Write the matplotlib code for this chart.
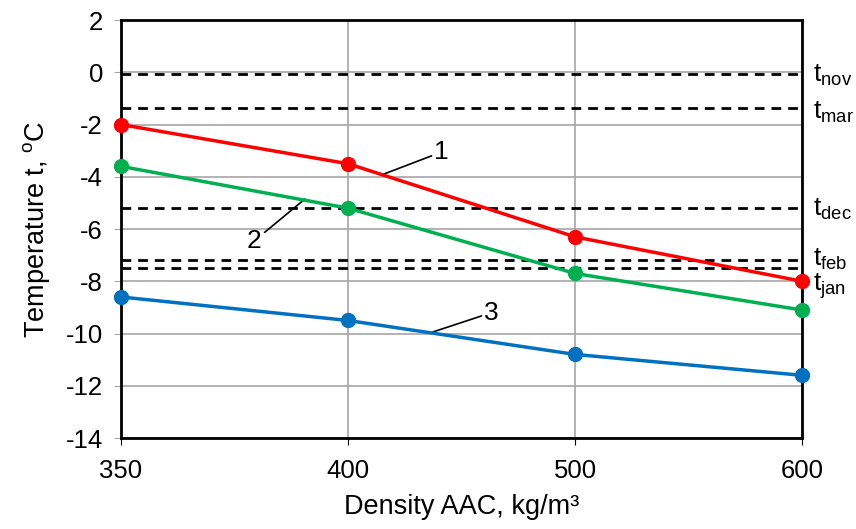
import matplotlib
matplotlib.use("Agg")
import matplotlib.pyplot as plt

plt.rcParams['font.family'] = ['Liberation Sans', 'DejaVu Sans']
plt.rcParams['mathtext.fontset'] = 'custom'
plt.rcParams['mathtext.rm'] = 'Liberation Sans'
plt.rcParams['mathtext.it'] = 'Liberation Sans'
plt.rcParams['axes.unicode_minus'] = False

categories = ['350', '400', '500', '600']
series1 = [-2.0, -3.5, -6.3, -8.0]
series2 = [-3.6, -5.2, -7.7, -9.1]
series3 = [-8.6, -9.5, -10.8, -11.6]
month_names = ['nov', 'mar', 'dec', 'feb', 'jan']
month_temps = [-0.05, -1.35, -5.2, -7.2, -7.5]
label_offsets = [-0.1, -1.55, -5.25, -7.15, -8.2]

fig = plt.figure(figsize=(8.56, 5.29), dpi=100)
ax = fig.add_axes([0.1414, 0.172, 0.7956, 0.79])
x = list(range(len(categories)))

for yv in month_temps:
    ax.axhline(yv, color='black', lw=2, ls=(0, (3.5, 2.5)), zorder=3)

ax.plot(x, series1, color='#FF0000', lw=2.5, marker='o', ms=10, clip_on=False, zorder=5)
ax.plot(x, series2, color='#00B050', lw=2.5, marker='o', ms=10, clip_on=False, zorder=5)
ax.plot(x, series3, color='#0070C0', lw=2.5, marker='o', ms=10, clip_on=False, zorder=5)

ax.set_xlim(0, 3)
ax.set_ylim(-14, 2)
ax.set_yticks(range(-14, 3, 2))
ax.set_xticks(x)
ax.set_xticklabels(categories)
ax.grid(True, color='#A6A6A6', lw=1.2, zorder=0)
ax.set_axisbelow(True)
for s in ax.spines.values():
    s.set_color('black')
    s.set_linewidth(2)
ax.tick_params(axis='both', labelsize=18.5, colors='black')
ax.tick_params(axis='y', length=5, color='#A6A6A6', pad=8)
ax.tick_params(axis='x', length=5, pad=10)

ax.set_xlabel('Density AAC, kg/m³', fontsize=19.5, labelpad=8)
ax.set_ylabel('Temperature t, $\\mathregular{^{o}}$C', fontsize=19.5, labelpad=10)

for name, yv in zip(month_names, label_offsets):
    ax.text(1.016, yv, '$\\mathregular{t_{%s}}$' % name, transform=ax.get_yaxis_transform(),
            fontsize=19, va='center', ha='left')

ax.annotate('1', xy=(1.15, -3.92), xytext=(1.38, -3.05), fontsize=19,
            arrowprops=dict(arrowstyle='-', color='black', lw=1.2, shrinkA=0, shrinkB=0),
            ha='left', va='center')
ax.annotate('2', xy=(0.81, -4.85), xytext=(0.62, -6.45), fontsize=19,
            arrowprops=dict(arrowstyle='-', color='black', lw=1.2, shrinkA=0, shrinkB=0),
            ha='right', va='center')
ax.annotate('3', xy=(1.37, -9.95), xytext=(1.60, -9.2), fontsize=19,
            arrowprops=dict(arrowstyle='-', color='black', lw=1.2, shrinkA=0, shrinkB=0),
            ha='left', va='center')

fig.savefig('out.png', dpi=100)
